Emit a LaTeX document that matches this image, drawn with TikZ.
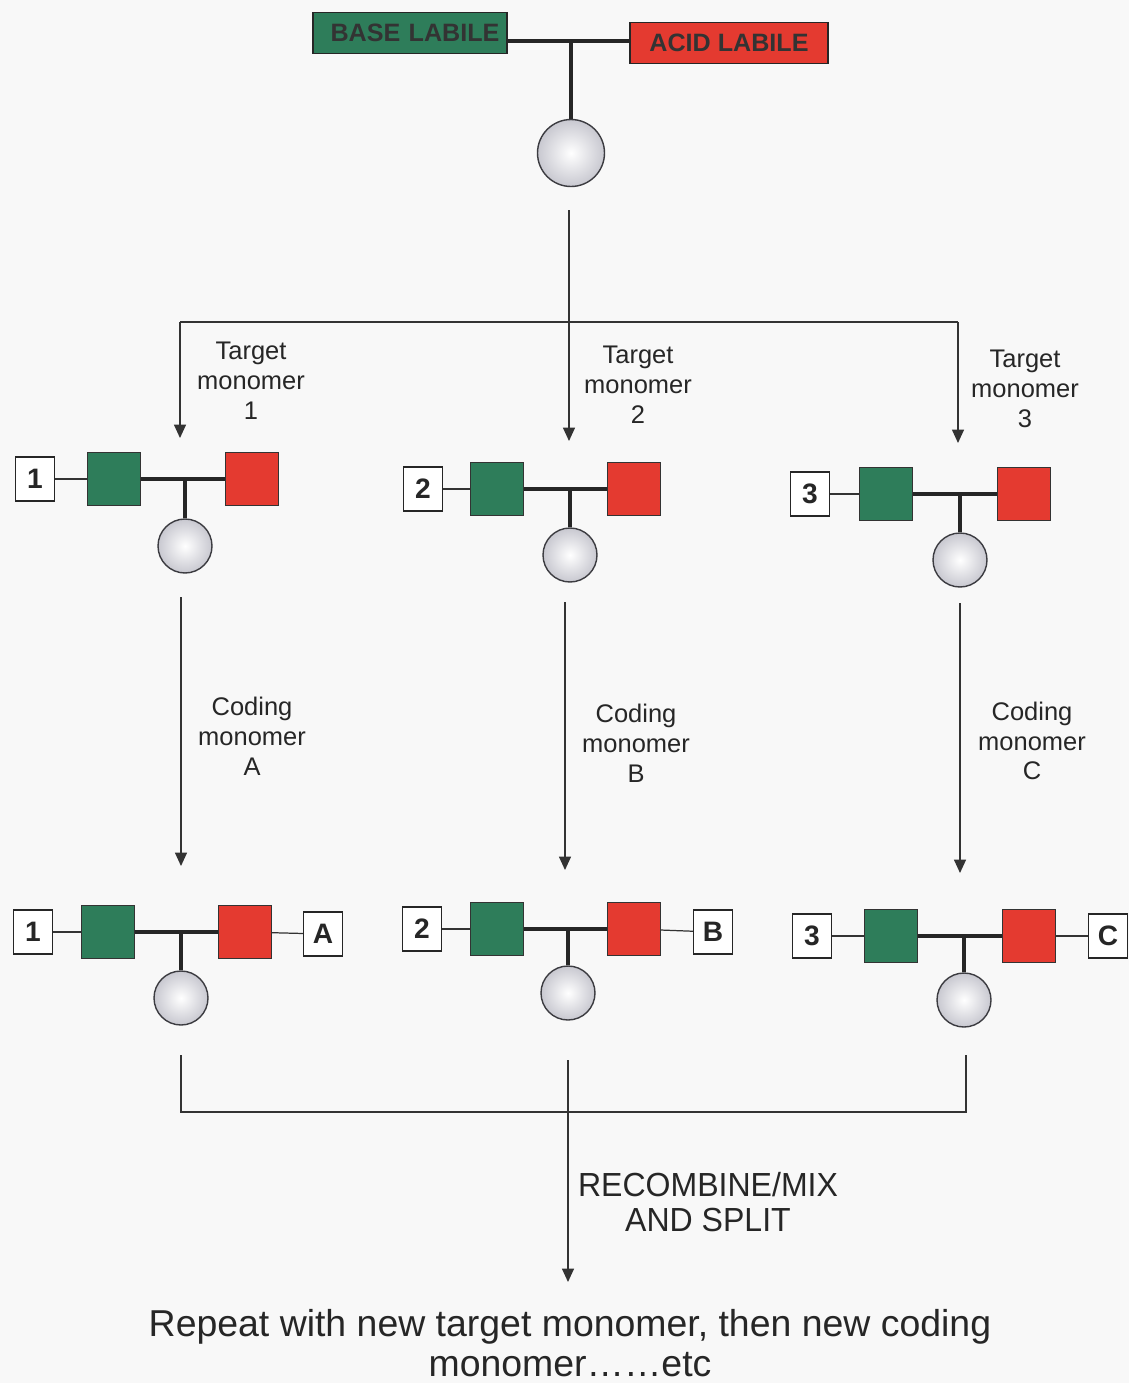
\documentclass[tikz,border=0pt]{standalone}
\usepackage{fontspec}
\setmainfont{Liberation Sans}
\newfontfamily\narrowfont[FakeStretch=0.96]{Liberation Sans}
\usetikzlibrary{arrows.meta}
\definecolor{basegreen}{RGB}{46,125,90}
\definecolor{acidred}{RGB}{228,58,48}
\definecolor{bgpaper}{RGB}{248,248,248}
\definecolor{ballrim}{RGB}{60,60,65}
\definecolor{ballouter}{RGB}{200,200,208}
\tikzset{
  numbox/.style={draw=black!85, fill=white, line width=0.6pt, minimum width=7.8mm, minimum height=8.8mm, inner sep=0pt, font=\fontsize{16}{16}\selectfont\bfseries, text=black!85},
  gbox/.style={draw=black!80, fill=basegreen, line width=0.6pt, minimum size=10.6mm, inner sep=0pt},
  rbox/.style={draw=black!80, fill=acidred, line width=0.6pt, minimum size=10.6mm, inner sep=0pt},
  ball/.style={circle, draw=ballrim, line width=0.8pt, minimum size=10.8mm, inner sep=0pt, inner color=white, outer color=ballouter},
  bigball/.style={ball, minimum size=13.4mm},
  thinlink/.style={draw=black!80, line width=0.7pt},
  thicklink/.style={draw=black!85, line width=1.8pt},
  toplink/.style={draw=black!85, line width=2.6pt},
  arr/.style={draw=black!80, line width=0.75pt, -{Triangle[width=6.8pt,length=7.6pt]}},
  plainline/.style={draw=black!80, line width=0.75pt},
  lbl/.style={align=center, inner sep=0pt, font=\fontsize{14.5}{17}\selectfont, text=black!85},
  toplabel/.style={draw=black!85, line width=0.7pt, minimum width=38.8mm, minimum height=8.1mm, inner sep=0pt, font=\fontsize{14.3}{14.3}\selectfont\bfseries, text=black!80},
}
\newcommand\mkunit[8]{%
  \node[numbox] (n#1) at (#3,#4) {#2};
  \node[gbox] (g#1) at (#5,#4) {};
  \node[rbox] (r#1) at (#6,#4) {};
  \node[ball] (c#1) at (#7,#8) {};
  \coordinate (j#1) at (#7,#4);
  \draw[thinlink] (n#1) -- (g#1);
  \draw[thicklink] (g#1) -- (r#1);
  \draw[thicklink] (j#1) -- (c#1.north);
}
\begin{document}
\begin{tikzpicture}[x=0.02cm, y=-0.02cm]
\fill[bgpaper] (0,0) rectangle (1129,1383);
\useasboundingbox (0,0) rectangle (1129,1383);

% top molecule
\node[toplabel, fill=basegreen, text width=35.8mm, align=right, inner xsep=1.5mm] (bl) at (410,33) {BASE LABILE};
\node[toplabel, fill=acidred, minimum width=39.6mm] (al) at (729,43) {ACID LABILE};
\node[bigball] (c0) at (571,153) {};
\coordinate (j0) at (571,41);
\draw[toplink] (j0 -| bl.east) -- (j0 -| al.west);
\draw[toplink] (j0) -- (c0.north);

% split to target monomers
\coordinate (s0) at (569,210);
\coordinate (t2) at (569,441);
\coordinate (hl) at (180,322);
\coordinate (hr) at (958,322);
\coordinate (t1) at (180,438);
\coordinate (t3) at (958,443);
\draw[arr] (s0) -- (t2);
\draw[plainline] (hl) -- (hr);
\draw[arr] (hl) -- (t1);
\draw[arr] (hr) -- (t3);

\node[lbl] (lt1) at (251,381) {Target\\monomer\\1};
\node[lbl] (lt2) at (638,385) {Target\\monomer\\2};
\node[lbl] (lt3) at (1025,389) {Target\\monomer\\3};

% row 1
\mkunit{a1}{1}{35}{479}{114}{252}{185}{546}
\mkunit{a2}{2}{423}{489}{497}{634}{570}{555}
\mkunit{a3}{3}{810}{494}{886}{1024}{960}{560}

% coding arrows
\coordinate (p1) at (181,597);
\coordinate (q1) at (181,866);
\coordinate (p2) at (565,602);
\coordinate (q2) at (565,870);
\coordinate (p3) at (960,603);
\coordinate (q3) at (960,873);
\draw[arr] (p1) -- (q1);
\draw[arr] (p2) -- (q2);
\draw[arr] (p3) -- (q3);

\node[lbl] (lc1) at (252,736) {Coding\\monomer\\A};
\node[lbl] (lc2) at (636,743) {Coding\\monomer\\B};
\node[lbl] (lc3) at (1032,741) {Coding\\monomer\\C};

% row 2
\mkunit{b1}{1}{33}{932}{108}{245}{181}{998}
\mkunit{b2}{2}{422}{929}{497}{634}{568}{993}
\mkunit{b3}{3}{812}{936}{891}{1029}{964}{1000}
\node[numbox] (xA) at (323,934) {A};
\node[numbox] (xB) at (713,932) {B};
\node[numbox] (xC) at (1108,936) {C};
\draw[thinlink] (rb1) -- (xA);
\draw[thinlink] (rb2) -- (xB);
\draw[thinlink] (rb3) -- (xC);

% recombine
\coordinate (m1) at (181,1055);
\coordinate (m1b) at (181,1112);
\coordinate (m3) at (966,1055);
\coordinate (m3b) at (966,1112);
\draw[plainline] (m1) -- (m1b) -- (m3b) -- (m3);
\coordinate (mc) at (568,1060);
\coordinate (me) at (568,1282);
\draw[arr] (mc) -- (me);
\node[lbl, font=\narrowfont\fontsize{19}{20}\selectfont] (rec) at (708,1202) {RECOMBINE/MIX\\AND SPLIT};
\node[lbl, font=\fontsize{21.3}{22.6}\selectfont] (rep) at (570,1343) {Repeat with new target monomer, then new coding\\monomer\ldots\ldots etc};
\end{tikzpicture}
\end{document}
